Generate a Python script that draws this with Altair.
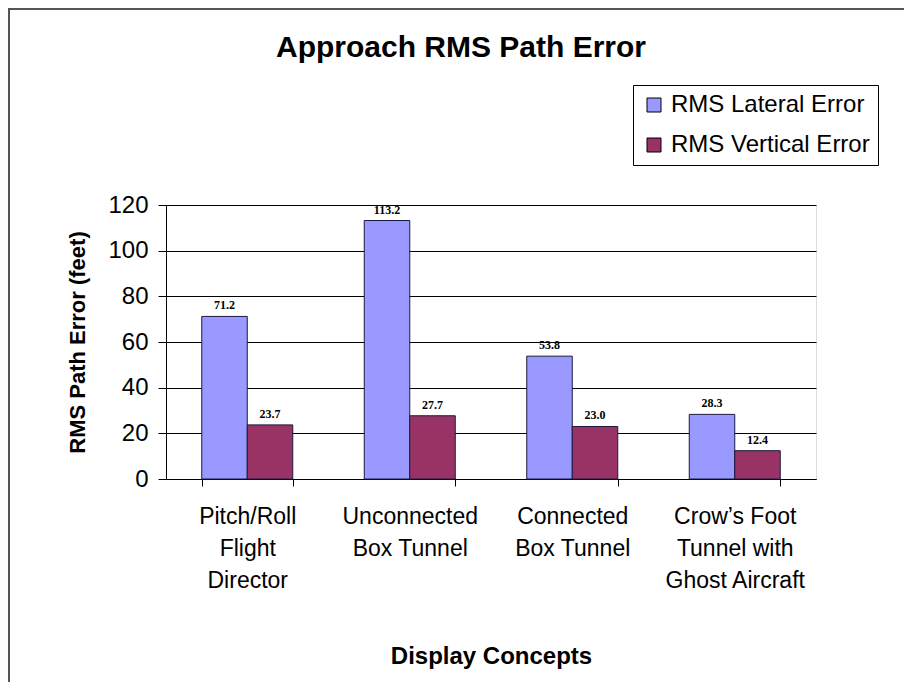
import altair as alt
import pandas as pd

categories = ["Pitch/Roll|Flight|Director", "Unconnected|Box Tunnel", "Connected|Box Tunnel", "Crow\u2019s Foot|Tunnel with|Ghost Aircraft"]
series = ["RMS Lateral Error", "RMS Vertical Error"]
lateral = [71.2, 113.2, 53.8, 28.3]
vertical = [23.7, 27.7, 23.0, 12.4]
y_ticks = [0, 20, 40, 60, 80, 100, 120]
colors = ["#9999FF", "#993366"]

rows = []
for c, a, b in zip(categories, lateral, vertical):
    rows.append({"concept": c, "series": series[0], "value": a, "label": f"{a:.1f}"})
    rows.append({"concept": c, "series": series[1], "value": b, "label": f"{b:.1f}"})
df = pd.DataFrame(rows)

FONT = "Liberation Sans"

x = alt.X("concept:N", sort=categories,
          scale=alt.Scale(paddingInner=0.44, paddingOuter=0.22),
          axis=alt.Axis(title="Display Concepts", labelAngle=0,
                        labelExpr="split(datum.label, '|')",
                        labelFont=FONT, labelFontSize=23, labelColor="black",
                        labelLineHeight=32, labelPadding=30, labelBaseline="middle",
                        tickBand="extent", tickSize=7, tickColor="black",
                        domainColor="black", titleFont=FONT, titleFontSize=24,
                        titleFontWeight="bold", titleColor="black", titlePadding=52))
xo = alt.XOffset("series:N", sort=series)

bars = alt.Chart(df).mark_bar(stroke="#1a1a40", strokeWidth=1).encode(
    x=x, xOffset=xo,
    y=alt.Y("value:Q", scale=alt.Scale(domain=[0, 120]),
            axis=alt.Axis(title="RMS Path Error (feet)", values=y_ticks,
                          grid=True, gridColor="black", gridWidth=1,
                          labelFont=FONT, labelFontSize=24, labelColor="black",
                          labelPadding=10, tickSize=8, tickColor="black",
                          domainColor="black", titleFont=FONT, titleFontSize=22,
                          titleFontWeight="bold", titleColor="black", titlePadding=18)),
    color=alt.Color("series:N", sort=series,
                    scale=alt.Scale(domain=series, range=colors),
                    legend=alt.Legend(title=None, orient="none", legendX=467, legendY=-120,
                                      fillColor="white", strokeColor="black", padding=8,
                                      symbolType="square", symbolSize=196, symbolOffset=1,
                                      symbolStrokeColor="black", symbolStrokeWidth=1,
                                      labelFont=FONT, labelFontSize=24, labelColor="black",
                                      labelLimit=400, rowPadding=16, labelOffset=5)),
)

labels = alt.Chart(df).mark_text(font="Liberation Serif", fontWeight="bold", fontSize=12,
                                 dy=-11, color="black").encode(
    x=x, xOffset=xo, y="value:Q", text="label:N")

frame = alt.Chart(df).mark_rect(fill=None, stroke="#555555", strokeWidth=2).encode(
    x=alt.value(-157), x2=alt.value(800), y=alt.value(-196), y2=alt.value(600))

chart = alt.layer(frame, bars, labels).properties(
    width=650, height=274,
    title=alt.TitleParams("Approach RMS Path Error", font=FONT, fontSize=30,
                          fontWeight="bold", color="black", anchor="middle", dx=-30,
                          offset=0, dy=55),
    padding={"left": 158, "top": 197, "right": 88, "bottom": 203},
    autosize=alt.AutoSizeParams(type="none"),
).configure_view(fill="#C0C0C0", stroke="#808080").configure(background="white")

chart.save("out.html", embed_options={"renderer": "svg", "actions": False})
